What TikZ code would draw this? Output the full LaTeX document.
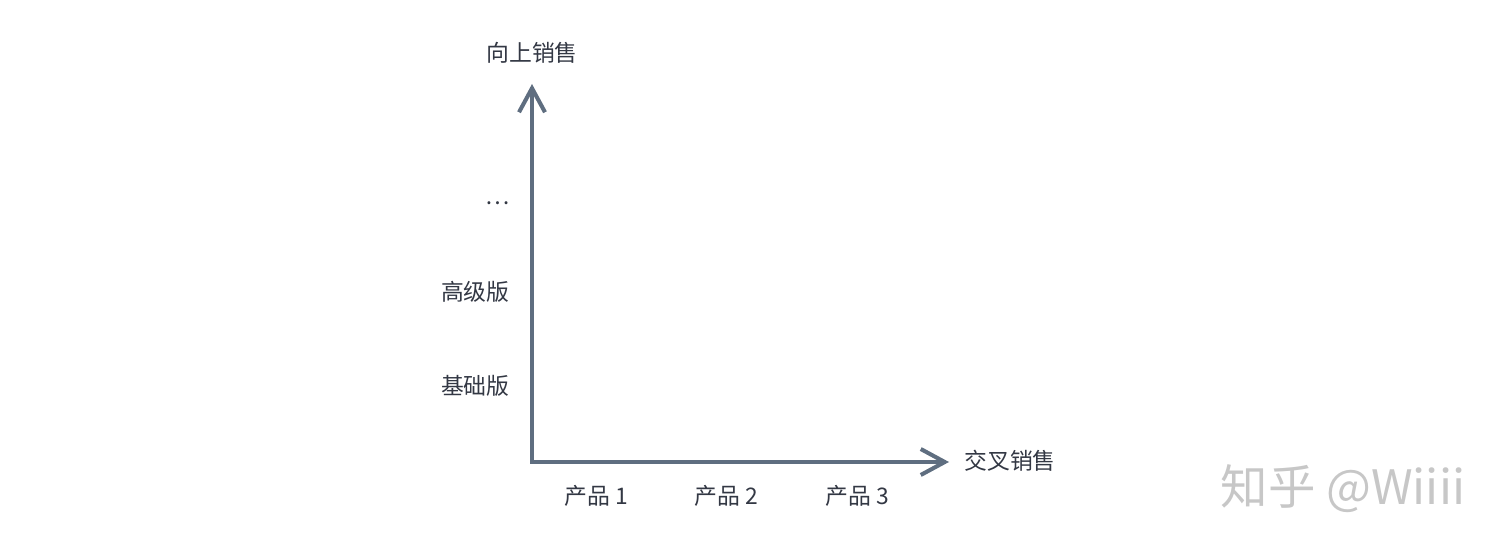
\documentclass[tikz,border=0pt]{standalone}
\usepackage{fontspec}
\setmainfont{Noto Sans CJK SC}
\usetikzlibrary{arrows.meta}
\definecolor{axiscolor}{HTML}{5F6E80}
\definecolor{textcolor}{HTML}{333844}
\begin{document}
\begin{tikzpicture}[x=0.02cm,y=0.02cm,
    barb/.tip ={Straight Barb[length=0.48cm,width=0.52cm,line width=2.3pt]},
    axis/.style ={line width=2.3pt, axiscolor, barb-barb},
    axislabel/.style ={text=textcolor, font=\fontsize{13pt}{15pt}\selectfont, inner sep=0pt},
    watermark/.style ={text=black!22, font=\fontsize{27pt}{30pt}\selectfont, inner sep=0pt}]
   \useasboundingbox (0,0) rectangle (1500,551);

   \coordinate (O) at (532,89);
   \coordinate (Y) at (532,467);
   \coordinate (X) at (949,89);

   \draw[axis] (Y) -- (O) -- (X);

   \node[axislabel] (up) at (532,498) {向上销售};
   \node[axislabel, anchor=east] (more) at (510,348) {…};
   \node[axislabel, anchor=east] (pro) at (510,259) {高级版};
   \node[axislabel, anchor=east] (basic) at (510,165) {基础版};
   \node[axislabel, anchor=west] (cross) at (964,90) {交叉销售};
   \node[axislabel] (P1) at (596,55) {产品 1};
   \node[axislabel] (P2) at (726,55) {产品 2};
   \node[axislabel] (P3) at (857,55) {产品 3};

   \node[watermark] (mark) at (1343,62) {知乎 @Wiiii};
 \end{tikzpicture}
\end{document}
